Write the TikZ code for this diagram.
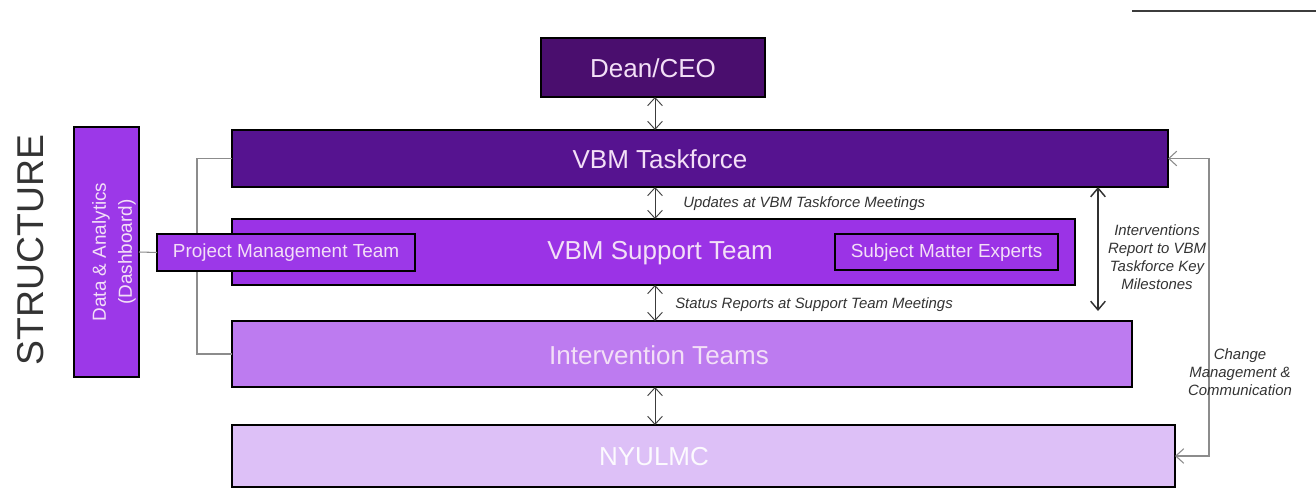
\documentclass[tikz,border=0pt]{standalone}
\usepackage{fontspec}
\setmainfont{Liberation Sans}
\usetikzlibrary{arrows.meta}

\definecolor{deanfill}{HTML}{4A0E6E}
\definecolor{taskfill}{HTML}{561390}
\definecolor{supportfill}{HTML}{9B33E6}
\definecolor{subfill}{HTML}{9C38E8}
\definecolor{interfill}{HTML}{BD7BF0}
\definecolor{nyufill}{HTML}{DDC0F7}
\definecolor{boxtxt}{HTML}{F3DFF7}
\definecolor{labeltxt}{HTML}{333333}
\definecolor{linkgray}{HTML}{8C8C8C}
\definecolor{arrowgray}{HTML}{3C3C3C}

\tikzset{
  box/.style={draw=black, line width=1.1pt, inner sep=0pt, outer sep=0pt},
  boxtext/.style={text=boxtxt, inner sep=0pt, font=\fontsize{19.5}{23}\selectfont},
  smalltext/.style={text=boxtxt, inner sep=0pt, font=\fontsize{14.2}{17}\selectfont},
  notetext/.style={text=labeltxt, inner sep=0pt, font=\fontsize{11.2}{13.5}\selectfont\itshape},
  flow/.style={draw=arrowgray, line width=0.7pt,
    {Straight Barb[length=6pt,width=11pt]}-{Straight Barb[length=6pt,width=11pt]}},
  keyflow/.style={draw=arrowgray!80!black, line width=1.1pt,
    {Straight Barb[length=6.5pt,width=11pt]}-{Straight Barb[length=6.5pt,width=11pt]}},
  link/.style={draw=linkgray, line width=0.8pt},
  loop/.style={draw=linkgray, line width=0.8pt,
    {Straight Barb[length=6pt,width=11pt]}-{Straight Barb[length=6pt,width=11pt]}}
}

\begin{document}
\begin{tikzpicture}[x=0.75pt,y=-0.75pt]
\useasboundingbox (0,0) rectangle (1316,488);

% reference columns
\coordinate (col) at (655,0);
\coordinate (bus) at (197,0);
\coordinate (loopx) at (1209,0);
\coordinate (keyend) at (1098,311);
\coordinate (ruleA) at (1132,11);
\coordinate (ruleB) at (1316,11);

% rule in the top right corner
\draw[draw=arrowgray, line width=1.1pt] (ruleA) -- (ruleB);

% side title
\node[text=labeltxt, rotate=90, inner sep=0pt, font=\fontsize{28}{32}\selectfont] (title) at (31,250) {STRUCTURE};

% main boxes
\node[box, fill=deanfill, minimum width=168pt, minimum height=44.25pt] (dean) at (653,67.5) {};
\node[box, fill=taskfill, minimum width=702pt, minimum height=42.75pt] (tf) at (700,158.5) {};
\node[box, fill=supportfill, minimum width=632.25pt, minimum height=49.5pt] (sup) at (653.5,252) {};
\node[box, fill=interfill, minimum width=675pt, minimum height=49.5pt] (it) at (682,354) {};
\node[box, fill=nyufill, minimum width=707.25pt, minimum height=46.5pt] (nyu) at (703.5,456) {};

% left bracket joining the taskforce and the intervention teams
\draw[link] (tf.west) -- (tf.west -| bus) |- (it.west);

% data box and its link to project management
\node[box, fill=subfill, minimum width=48.75pt, minimum height=187.5pt] (data) at (106.5,252) {};
\node[box, fill=subfill, minimum width=193.5pt, minimum height=27.75pt] (pmt) at (286,252.5) {};
\node[box, fill=supportfill, minimum width=167.25pt, minimum height=27pt] (sme) at (946.5,252) {};
\draw[link] (data.east) -- (pmt.west);

% box captions
\node[boxtext] (deanT) at (653,68) {Dean/CEO};
\node[boxtext] (tfT) at (660,159) {VBM Taskforce};
\node[boxtext] (supT) at (660,253) {VBM Support Team};
\node[boxtext] (itT) at (659,355) {Intervention Teams};
\node[boxtext, text=white!92!nyufill] (nyuT) at (654,457) {NYULMC};
\node[smalltext] (pmtT) at (286,253) {Project Management Team};
\node[smalltext] (smeT) at (946.5,252.5) {Subject Matter Experts};
\node[smalltext, rotate=90, align=center, font=\fontsize{14.2}{19.5}\selectfont] (dataT) at (114,252) {Data \& Analytics\\(Dashboard)};

% vertical flow between the levels
\draw[flow] (dean.south -| col) -- (tf.north -| col);
\draw[flow] (tf.south -| col) -- (sup.north -| col);
\draw[flow] (sup.south -| col) -- (it.north -| col);
\draw[flow] (it.south -| col) -- (nyu.north -| col);

\node[notetext, anchor=west] (updT) at (683,204) {Updates at VBM Taskforce Meetings};
\node[notetext, anchor=west] (staT) at (675,305) {Status Reports at Support Team Meetings};

% key milestones report
\draw[keyflow] (tf.south -| keyend) -- (keyend);
\node[notetext, align=center] (keyT) at (1157,257) {Interventions\\Report to VBM\\Taskforce Key\\Milestones};

% change management loop
\draw[loop] (tf.east) -- (tf.east -| loopx) |- (nyu.east);
\node[notetext, align=center] (cmT) at (1240,372) {Change\\Management \&\\Communication};

\end{tikzpicture}
\end{document}
